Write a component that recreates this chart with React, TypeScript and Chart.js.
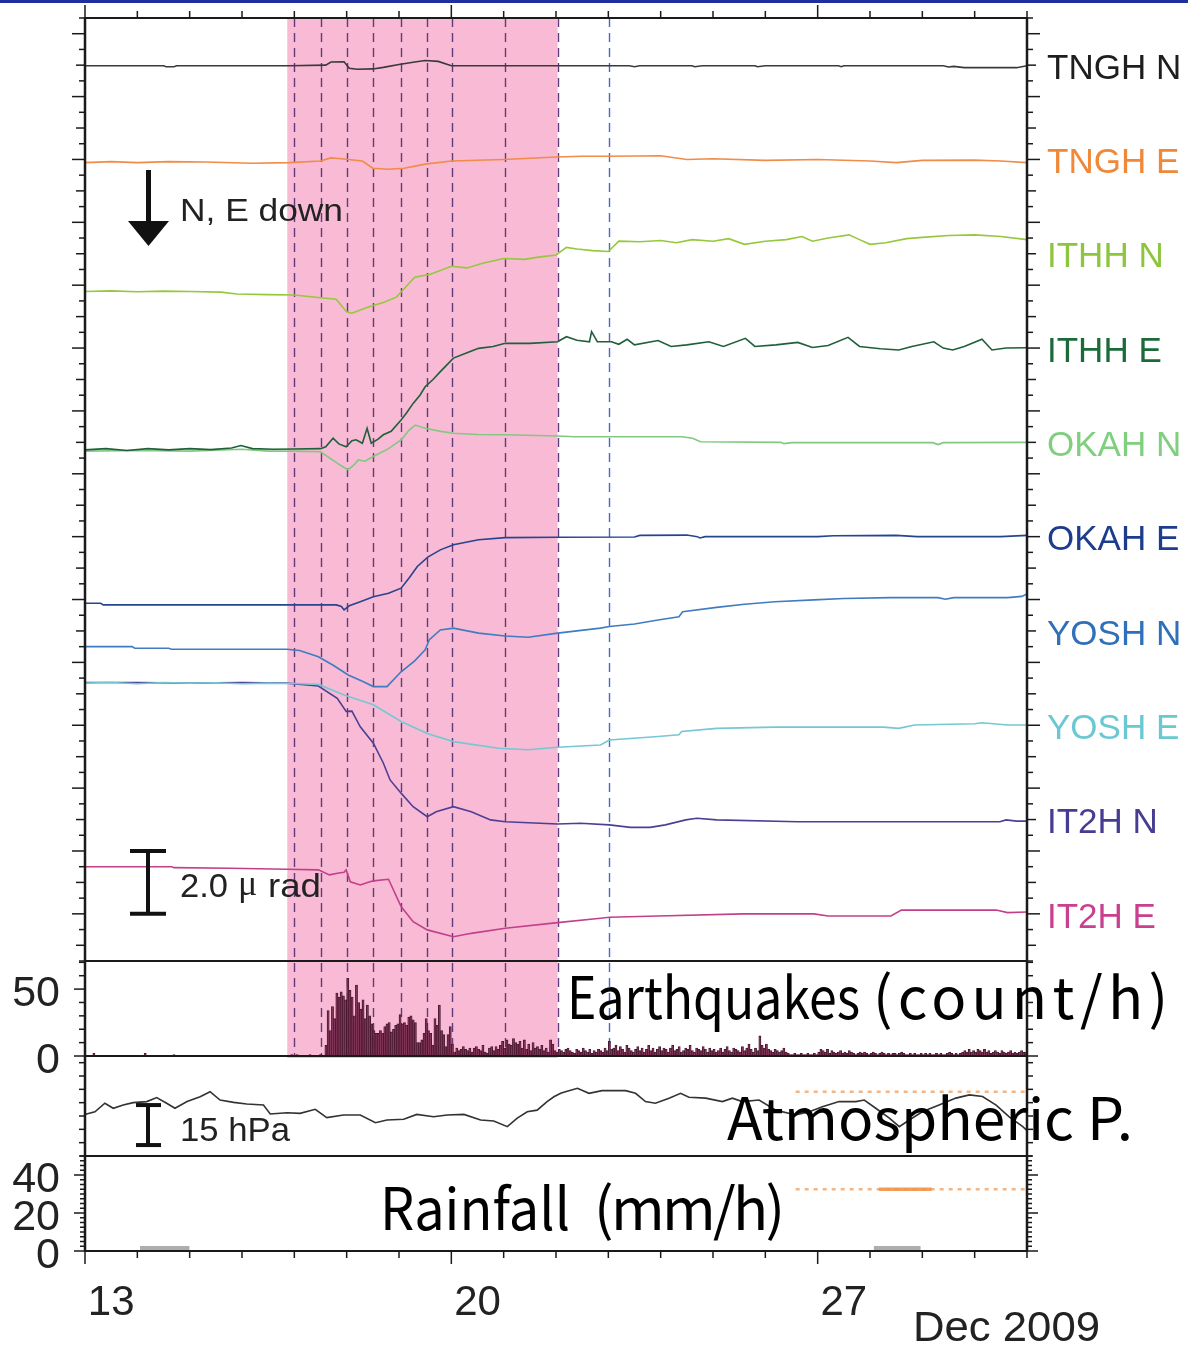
import React, { useEffect, useRef } from 'react';
import { Chart, registerables } from 'chart.js';

Chart.register(...registerables);

// ---------- data (x = day of December 2009, y = tilt in µrad, offset per trace) ----------
const tnghN: [number, number][] = [
  [13.0, 26.98], [14.5, 26.98], [14.55, 26.95], [14.7, 26.95], [14.75, 26.98], [16.9, 26.98],
  [17.6, 27.0], [17.7, 27.1], [17.95, 27.11], [18.05, 26.9], [18.2, 26.87], [18.5, 26.88],
  [18.7, 26.93], [19.0, 27.02], [19.3, 27.1], [19.5, 27.15], [19.75, 27.12], [20.0, 26.98],
  [23.4, 26.98], [23.5, 26.95], [23.6, 26.98], [24.6, 26.98], [24.65, 26.95], [24.8, 26.98],
  [25.8, 26.98], [25.85, 26.95], [26.0, 26.98], [27.4, 26.98], [27.45, 26.95], [27.5, 26.98],
  [29.4, 26.98], [29.5, 26.94], [29.6, 26.96], [29.8, 26.92], [30.8, 26.92], [31.0, 26.98],
];
const tnghE: [number, number][] = [
  [13.0, 23.9], [13.5, 23.93], [14.0, 23.9], [14.6, 23.93], [15.3, 23.92], [16.2, 23.88],
  [16.9, 23.9], [17.5, 23.95], [17.7, 24.05], [17.9, 24.02], [18.3, 23.95], [18.5, 23.72],
  [18.8, 23.69], [19.1, 23.72], [19.5, 23.85], [20.0, 23.95], [21.0, 24.0], [22.0, 24.08],
  [22.5, 24.1], [23.0, 24.1], [24.0, 24.12], [24.5, 24.0], [25.0, 24.02], [26.0, 23.97],
  [27.0, 24.0], [28.0, 23.95], [28.5, 23.9], [29.0, 23.97], [30.0, 23.98], [30.5, 23.95], [31.0, 23.9],
];
const ithhN: [number, number][] = [
  [13.0, 19.8], [13.5, 19.82], [14.0, 19.79], [14.5, 19.81], [15.0, 19.8], [15.6, 19.78],
  [15.9, 19.72], [16.5, 19.7], [17.0, 19.69], [17.5, 19.6], [17.8, 19.55], [18.0, 19.15],
  [18.1, 19.11], [18.4, 19.3], [18.7, 19.45], [18.95, 19.62], [19.05, 19.8], [19.3, 20.25],
  [19.6, 20.35], [20.0, 20.6], [20.3, 20.55], [20.6, 20.7], [21.0, 20.85], [21.4, 20.82],
  [21.7, 20.9], [22.0, 20.96], [22.2, 21.2], [22.4, 21.15], [22.7, 21.1], [23.0, 21.07],
  [23.2, 21.4], [23.6, 21.38], [24.0, 21.42], [24.3, 21.35], [24.6, 21.45], [25.0, 21.4],
  [25.3, 21.48], [25.6, 21.3], [26.0, 21.4], [26.4, 21.45], [26.7, 21.55], [26.9, 21.4],
  [27.2, 21.5], [27.6, 21.6], [27.8, 21.45], [28.0, 21.3], [28.3, 21.35], [28.7, 21.48],
  [29.0, 21.52], [29.5, 21.58], [30.0, 21.6], [30.5, 21.55], [31.0, 21.45],
];
const ithhE: [number, number][] = [
  [13.0, 14.76], [13.4, 14.8], [13.8, 14.74], [14.2, 14.8], [14.6, 14.76], [15.0, 14.8],
  [15.4, 14.77], [15.8, 14.82], [15.98, 14.9], [16.2, 14.8], [16.6, 14.78], [17.0, 14.79],
  [17.5, 14.8], [17.6, 14.86], [17.74, 15.13], [17.85, 14.95], [17.99, 14.86], [18.1, 15.05],
  [18.18, 15.08], [18.3, 14.97], [18.39, 15.45], [18.47, 14.97], [18.6, 15.1], [18.7, 15.24],
  [18.85, 15.35], [19.04, 15.71], [19.15, 15.95], [19.27, 16.24], [19.4, 16.5], [19.5, 16.77],
  [19.65, 17.0], [19.79, 17.25], [20.04, 17.68], [20.3, 17.85], [20.52, 17.99], [20.8, 18.05],
  [21.03, 18.15], [21.5, 18.15], [22.03, 18.2], [22.2, 18.36], [22.4, 18.25], [22.64, 18.2],
  [22.68, 18.52], [22.79, 18.2], [23.06, 18.2], [23.2, 18.12], [23.36, 18.28], [23.5, 18.1],
  [23.95, 18.24], [24.2, 18.05], [24.5, 18.1], [24.92, 18.2], [25.2, 18.05], [25.62, 18.31],
  [25.8, 18.05], [26.2, 18.1], [26.62, 18.18], [26.9, 18.02], [27.2, 18.08], [27.58, 18.34],
  [27.8, 18.05], [28.2, 17.98], [28.55, 17.94], [28.8, 18.05], [29.22, 18.2], [29.4, 18.0],
  [29.58, 17.94], [29.8, 18.05], [30.14, 18.28], [30.33, 17.94], [30.6, 18.0], [31.0, 18.01],
];
const okahN: [number, number][] = [
  [13.0, 14.72], [14.0, 14.74], [15.0, 14.72], [16.0, 14.78], [16.5, 14.72], [17.0, 14.72],
  [17.5, 14.7], [17.82, 14.34], [17.95, 14.2], [18.03, 14.13], [18.15, 14.3], [18.22, 14.44],
  [18.35, 14.4], [18.51, 14.55], [18.8, 14.8], [19.04, 15.08], [19.2, 15.4], [19.31, 15.55],
  [19.5, 15.45], [19.8, 15.35], [20.04, 15.29], [20.5, 15.25], [21.03, 15.24], [22.03, 15.2],
  [22.35, 15.18], [24.4, 15.18], [24.61, 15.13], [24.76, 15.02], [26.3, 15.0], [26.35, 14.96],
  [26.5, 14.99], [29.2, 14.99], [29.3, 14.93], [29.4, 14.99], [31.0, 15.0],
];
const okahE: [number, number][] = [
  [13.0, 9.88], [13.3, 9.88], [13.35, 9.83], [17.8, 9.83], [17.9, 9.78], [17.95, 9.67],
  [18.05, 9.8], [18.26, 9.93], [18.51, 10.09], [18.8, 10.2], [19.04, 10.36], [19.2, 10.7],
  [19.35, 11.05], [19.55, 11.35], [19.79, 11.58], [20.04, 11.74], [20.52, 11.9], [21.03, 11.97],
  [22.03, 11.98], [23.5, 11.99], [23.6, 12.04], [24.5, 12.05], [24.7, 12.0], [24.75, 11.96],
  [24.85, 12.0], [27.0, 12.0], [27.3, 12.03], [28.5, 12.04], [28.9, 12.0], [30.5, 12.0], [31.0, 12.04],
];
const yoshN: [number, number][] = [
  [13.0, 8.5], [13.9, 8.5], [13.95, 8.45], [14.6, 8.45], [14.65, 8.42], [15.8, 8.42],
  [16.86, 8.42], [17.1, 8.38], [17.46, 8.18], [17.75, 7.9], [18.03, 7.6], [18.3, 7.4],
  [18.51, 7.23], [18.77, 7.23], [19.04, 7.7], [19.3, 8.05], [19.5, 8.4], [19.58, 8.72],
  [19.79, 9.03], [20.04, 9.09], [20.52, 8.93], [21.03, 8.84], [21.47, 8.8], [22.03, 8.93],
  [22.85, 9.09], [23.02, 9.14], [23.5, 9.22], [23.95, 9.35], [24.35, 9.45], [24.42, 9.61],
  [25.07, 9.75], [25.6, 9.85], [26.18, 9.93], [26.93, 9.99], [27.5, 10.03], [28.4, 10.06],
  [29.3, 10.06], [29.44, 10.01], [29.6, 10.06], [30.63, 10.06], [30.9, 10.1], [31.0, 10.18],
];
const yoshE: [number, number][] = [
  [13.0, 7.34], [13.5, 7.36], [14.0, 7.32], [14.5, 7.36], [15.0, 7.34], [15.5, 7.35],
  [16.0, 7.32], [16.5, 7.34], [17.0, 7.33], [17.46, 7.3], [17.95, 6.96], [18.51, 6.65],
  [19.04, 6.12], [19.54, 5.74], [20.04, 5.48], [20.9, 5.27], [21.47, 5.22], [22.03, 5.3],
  [22.85, 5.37], [23.02, 5.53], [23.95, 5.64], [24.35, 5.7], [24.4, 5.8], [25.07, 5.9],
  [26.18, 5.94], [28.25, 5.94], [28.55, 5.9], [28.85, 6.01], [30.0, 6.05], [30.14, 6.08],
  [30.63, 6.01], [31.0, 6.01],
];
const it2hN: [number, number][] = [
  [13.0, 7.36], [14.0, 7.36], [15.0, 7.34], [16.0, 7.36], [16.86, 7.34], [17.46, 7.25],
  [17.82, 6.86], [17.99, 6.44], [18.1, 6.45], [18.26, 5.95], [18.51, 5.43], [18.7, 4.8],
  [18.83, 4.26], [19.04, 3.84], [19.27, 3.41], [19.54, 3.09], [19.71, 3.25], [20.04, 3.41],
  [20.38, 3.25], [20.75, 2.99], [21.03, 2.93], [22.03, 2.86], [22.47, 2.88], [23.02, 2.83],
  [23.42, 2.75], [23.8, 2.75], [24.09, 2.83], [24.48, 2.99], [24.69, 3.04], [25.07, 2.99],
  [26.62, 2.93], [28.0, 2.93], [30.48, 2.93], [30.6, 2.99], [30.8, 2.95], [31.0, 2.95],
];
const it2hE: [number, number][] = [
  [13.0, 1.5], [14.66, 1.5], [14.7, 1.47], [15.77, 1.45], [16.86, 1.42], [17.46, 1.4],
  [17.67, 1.24], [17.85, 1.3], [17.95, 1.32], [17.99, 1.4], [18.07, 1.02], [18.26, 0.92],
  [18.4, 1.0], [18.51, 1.05], [18.8, 1.1], [19.04, 0.23], [19.27, -0.25], [19.54, -0.51],
  [20.04, -0.73], [20.38, -0.62], [21.03, -0.46], [22.03, -0.28], [22.85, -0.14], [23.02, -0.11],
  [23.95, -0.07], [25.59, 0.0], [26.93, 0.0], [27.2, -0.07], [28.4, -0.07], [28.6, 0.12],
  [30.41, 0.12], [30.63, 0.04], [31.0, 0.06],
];

const traceData = [tnghN, tnghE, ithhN, ithhE, okahN, okahE, yoshN, yoshE, it2hN, it2hE];
const traceNames = ['TNGH N', 'TNGH E', 'ITHH N', 'ITHH E', 'OKAH N', 'OKAH E', 'YOSH N', 'YOSH E', 'IT2H N', 'IT2H E'];
const traceColors = ['#3a3a3a', '#f08c48', '#96c83c', '#1f5f3a', '#82c882', '#27448f', '#3f7cc0', '#74c8d4', '#4d3f94', '#c2408a'];
const labelColors = ['#1e1e1e', '#f0883a', '#8cc63e', '#1a6a3a', '#7fcf7f', '#1e3c8c', '#2f70b8', '#6ac8d2', '#463c92', '#c8408e'];
const labelLevels = [27, 24, 21, 18, 15, 12, 9, 6, 3, 0];

// Earthquakes: hourly counts starting Dec 17 14:00
const eqStartDay = 17 + 14 / 24;
const eqHourly = [
  8, 34, 19, 37, 28, 47, 44, 48, 45, 42,
  58, 49, 44, 30, 53, 40, 35, 42, 28, 38,
  30, 24, 19, 17, 17, 19, 17, 22, 24, 25,
  18, 20, 23, 24, 31, 24, 25, 23, 29, 30,
  27, 25, 10, 10, 12, 17, 28, 19, 17, 8,
  28, 23, 38, 19, 16, 7, 16, 22, 9, 3,
  6, 4, 5, 7, 5, 4, 6, 3, 6, 7,
  5, 4, 8, 3, 2, 6, 7, 4, 7, 5,
  8, 11, 6, 12, 9, 8, 13, 10, 9, 11,
  6, 12, 5, 9, 4, 10, 6, 7, 5, 8,
  4, 6, 3, 12, 9, 4, 3, 5,
  4, 3, 5, 6, 4, 3, 2, 5, 4, 3, 6, 4, 3, 5, 2, 4, 3, 5, 4, 3, 6, 4, 11, 5,
  6, 8, 4, 7, 5, 3, 8, 6, 4, 3, 5, 7, 4, 6, 3, 5, 8, 4, 6, 3, 5, 7, 4, 6,
  5, 3, 6, 8, 4, 5, 7, 3, 4, 6, 5, 8, 4, 3, 6, 5, 4, 7, 5, 3, 6, 4, 5, 3,
  4, 6, 3, 5, 7, 4, 3, 6, 5, 4, 3, 7, 4, 6, 9, 5, 3, 6, 4, 15, 8, 6, 9, 5,
  4, 3, 5, 4, 3, 4, 6, 3, 2, 1, 1, 2, 1, 1, 2, 1, 1, 2, 1, 1, 2, 1, 3, 5,
  4, 3, 5, 2, 4, 3, 2, 3, 4, 2, 3, 2, 4, 3, 2, 1, 2, 3, 2, 3, 2, 1, 2, 3,
  2, 1, 2, 3, 2, 1, 2, 1, 2, 2, 1, 2, 3, 2, 1, 1, 2, 1, 2, 1, 1, 2, 1, 2,
  1, 2, 1, 1, 2, 1, 2, 1, 1, 2, 3, 2, 1, 2, 1, 2, 3, 4, 3, 5, 3, 4, 3, 5,
  4, 3, 5, 3, 4, 2, 3, 4, 3, 2, 4, 3, 2, 3, 4, 2, 3, 2, 3, 4, 3, 3,
];
const eqEarly: [number, number][] = [[13.17, 2], [14.15, 2], [14.7, 1], [16.95, 1], [17.05, 1], [17.3, 1], [17.5, 1]];

// Atmospheric pressure (hPa)
const atmP: [number, number][] = [
  [13.0, 1005.5], [13.03, 1005.75], [13.19, 1006.6], [13.38, 1009.8], [13.54, 1007.9], [13.73, 1009.1],
  [13.92, 1010.0], [14.18, 1010.4], [14.37, 1011.9], [14.56, 1009.8], [14.72, 1007.9], [14.95, 1010.4],
  [15.2, 1012.2], [15.39, 1014.1], [15.58, 1011.0], [15.84, 1010.1], [16.09, 1009.5], [16.41, 1009.1],
  [16.54, 1005.75], [16.86, 1006.2], [17.11, 1006.0], [17.4, 1007.5], [17.62, 1004.4], [17.94, 1005.4],
  [18.26, 1005.4], [18.55, 1002.5], [18.77, 1003.5], [19.09, 1003.8], [19.34, 1005.6], [19.66, 1004.7],
  [19.92, 1005.4], [20.24, 1005.6], [20.56, 1003.5], [20.81, 1003.1], [21.07, 1001.0], [21.26, 1004.2],
  [21.45, 1006.6], [21.64, 1007.2], [21.83, 1010.4], [21.96, 1012.2], [22.09, 1013.5], [22.18, 1014.1],
  [22.41, 1015.4], [22.63, 1013.5], [22.88, 1014.5], [23.33, 1014.5], [23.52, 1013.5], [23.71, 1010.4],
  [23.9, 1009.8], [24.16, 1011.7], [24.38, 1013.5], [24.54, 1012.0], [24.86, 1011.7], [25.18, 1010.4],
  [25.37, 1011.7], [25.56, 1010.4], [25.88, 1011.0], [26.2, 1007.2], [26.58, 1005.4], [26.84, 1006.6],
  [27.09, 1008.5], [27.41, 1010.4], [27.73, 1010.4], [27.89, 1011.0], [28.11, 1007.9], [28.37, 1004.2],
  [28.56, 1001.0], [28.75, 1003.5], [29.0, 1006.6], [29.32, 1009.1], [29.64, 1011.7], [29.9, 1012.9],
  [30.15, 1012.3], [30.41, 1009.1], [30.66, 1004.7], [30.92, 1001.0], [31.0, 999.5],
];
const atmFlag: [number, number][] = [[26.58, 1014.1], [31.0, 1014.1]];

// Rainfall (mm/h)
const rainBlocks: [number, number, number][] = [[14.05, 15.0, 2.6], [28.07, 28.97, 2.6]];
const rainFlag: [number, number][] = [[26.58, 32.5], [31.0, 32.5]];
const rainFlagBold: [number, number][] = [[28.17, 32.5], [29.18, 32.5]];

const dayLabels = [13, 20, 27];
const eqTickLabels = [0, 50];
const rainTickLabels = [0, 20, 40];
const shadeStart = 16.865;
const shadeEnd = 22.03;
const dashDays = [17.0, 17.5, 18.0, 18.5, 19.04, 19.54, 20.02, 21.02, 22.03];
const blueDashDays = [23.02];

const FONT = '"Liberation Sans", Arial, sans-serif';
const CJK = '"Noto Sans CJK JP", "Noto Sans", sans-serif';

const toXY = (arr: [number, number][]) => arr.map(([x, y]) => ({ x, y }));

// draw text squeezed/stretched to a given width
const fitText = (ctx: CanvasRenderingContext2D, text: string, x: number, y: number, width: number) => {
  const w = ctx.measureText(text).width;
  ctx.save();
  ctx.translate(x, y);
  ctx.scale(width / w, 1);
  ctx.fillText(text, 0, 0);
  ctx.restore();
};
// draw text spread to a given width with letter spacing
const spacedText = (ctx: any, text: string, x: number, y: number, width: number) => {
  ctx.save();
  ctx.letterSpacing = '0px';
  const w = ctx.measureText(text).width;
  const sp = (width - w) / (text.length - 1);
  ctx.letterSpacing = `${sp.toFixed(2)}px`;
  ctx.fillText(text, x, y);
  ctx.restore();
};

const overlay = {
  id: 'overlay',
  beforeDatasetsDraw(chart: any) {
    const { ctx, scales } = chart;
    const x = scales.x, ym = scales.yMain, ye = scales.yEq;
    const top = ym.top, bot = ye.getPixelForValue(0) + 2;
    ctx.save();
    ctx.fillStyle = 'rgb(248,186,212)';
    const x0 = x.getPixelForValue(shadeStart), x1 = x.getPixelForValue(shadeEnd);
    ctx.fillRect(x0, top, x1 - x0, bot - top);
    ctx.setLineDash([9, 6]);
    ctx.lineWidth = 1.4;
    const vline = (d: number) => {
      const px = Math.round(x.getPixelForValue(d)) + 0.5;
      ctx.beginPath(); ctx.moveTo(px, top); ctx.lineTo(px, ye.bottom); ctx.stroke();
    };
    ctx.strokeStyle = '#5e3c7c';
    dashDays.forEach(vline);
    ctx.strokeStyle = '#4a66c8';
    blueDashDays.forEach(vline);
    ctx.restore();
  },
  afterDatasetsDraw(chart: any) {
    const { ctx, scales } = chart;
    const x = scales.x, ym = scales.yMain, ye = scales.yEq, ya = scales.yAtm, yr = scales.yRain;
    const L = x.left, R = x.right;
    ctx.save();
    const seg = (a: number, b: number, c: number, d: number) => {
      ctx.beginPath(); ctx.moveTo(a, b); ctx.lineTo(c, d); ctx.stroke();
    };
    // top banner line
    ctx.fillStyle = '#1f2f9c';
    ctx.fillRect(0, 0, chart.width, 3);

    ctx.strokeStyle = '#1a1a1a';
    ctx.lineWidth = 1.5;
    for (let d = 13; d <= 31; d++) {
      const px = x.getPixelForValue(d);
      const len = dayLabels.includes(d) ? 13 : 7;
      seg(px, ym.top, px, ym.top - len);
      seg(px, yr.bottom, px, yr.bottom + len);
    }
    const side = (scale: any, v: number, len: number) => {
      const py = scale.getPixelForValue(v);
      seg(L, py, L - len, py);
      seg(R, py, R + len, py);
    };
    for (let v = -1.5; v <= 28.5001; v += 0.5) {
      const isEven = Math.abs(v / 2 - Math.round(v / 2)) < 1e-6;
      const isInt = Math.abs(v - Math.round(v)) < 1e-6;
      side(ym, v, isEven ? 13 : isInt ? 9 : 6);
    }
    for (let v = 0; v <= 70; v += 10) side(ye, v, v === 0 || v === 50 ? 11 : 6);
    for (let v = 990; v <= 1025; v += 5) side(ya, v, 6);
    for (let v = 0; v <= 50; v += 2.5) side(yr, v, v === 0 || v === 20 || v === 40 ? 11 : 5);

    // frames
    ctx.lineWidth = 2.2;
    seg(L, ym.top, R, ym.top);
    seg(L, ye.top, R, ye.top);
    seg(L, ye.bottom, R, ye.bottom);
    seg(L, ya.bottom, R, ya.bottom);
    seg(L, yr.bottom, R, yr.bottom);
    ctx.lineWidth = 2.5;
    seg(L, ym.top - 1, L, yr.bottom + 1);
    seg(R, ym.top - 1, R, yr.bottom + 1);

    // station labels
    ctx.font = `35px ${FONT}`;
    ctx.textBaseline = 'middle';
    ctx.textAlign = 'left';
    traceNames.forEach((n, i) => {
      ctx.fillStyle = labelColors[i];
      ctx.fillText(n, R + 20, ym.getPixelForValue(labelLevels[i]) + 4);
    });

    // arrow "N, E down"
    ctx.fillStyle = '#111';
    ctx.fillRect(146, 170, 5, 56);
    ctx.beginPath(); ctx.moveTo(128, 221); ctx.lineTo(169, 221); ctx.lineTo(148.5, 246); ctx.closePath(); ctx.fill();
    ctx.fillStyle = '#222';
    ctx.font = `32px ${FONT}`;
    fitText(ctx, 'N, E down', 180, 212, 163);

    // scale bar 2.0 µrad
    ctx.strokeStyle = '#111';
    ctx.lineWidth = 4;
    const b0 = ym.getPixelForValue(2.0), b1 = ym.getPixelForValue(0);
    seg(148, b0, 148, b1);
    seg(130, b0, 166, b0);
    seg(130, b1, 166, b1);
    ctx.font = `34px ${FONT}`;
    fitText(ctx, '2.0', 180, 888, 48);
    ctx.font = `36px "Liberation Serif", serif`;
    ctx.fillText('\u03bc', 238, 886);
    ctx.font = `34px ${FONT}`;
    fitText(ctx, 'rad', 268, 888, 53);

    // scale bar 15 hPa
    const p0 = ya.getPixelForValue(1009.1), p1 = ya.getPixelForValue(994.1);
    seg(148, p0, 148, p1);
    seg(136, p0, 161, p0);
    seg(136, p1, 161, p1);
    fitText(ctx, '15 hPa', 180, 1132, 110);

    // panel titles
    ctx.fillStyle = '#000';
    ctx.font = `58px ${CJK}`;
    ctx.textBaseline = 'alphabetic';
    fitText(ctx, 'Earthquakes', 567, 1019, 293);
    spacedText(ctx, '(count/h)', 873, 1019, 295);
    fitText(ctx, 'Atmospheric P.', 727, 1140, 406);
    fitText(ctx, 'Rainfall', 380, 1230, 190);
    spacedText(ctx, '(mm/h)', 594, 1230, 191);

    ctx.fillStyle = '#222';
    ctx.font = `42px ${FONT}`;
    fitText(ctx, 'Dec 2009', 913, 1341, 187);
    ctx.restore();
  },
};

const App = () => {
  const ref = useRef<HTMLCanvasElement>(null);
  useEffect(() => {
    const canvas = ref.current;
    if (!canvas) return;
    Chart.defaults.font.family = FONT;
    const eqData = [
      ...eqEarly.map(([x, y]) => ({ x, y })),
      ...eqHourly.map((y, i) => ({ x: eqStartDay + (i + 0.5) / 24, y })),
    ];
    const datasets: any[] = traceData.map((d, i) => ({
      type: 'line', label: traceNames[i], data: toXY(d), yAxisID: 'yMain',
      borderColor: traceColors[i], borderWidth: 1.6, pointRadius: 0, tension: 0, fill: false,
    }));
    datasets.push({
      type: 'bar', label: 'Earthquakes', data: eqData, yAxisID: 'yEq',
      backgroundColor: 'rgba(165,70,112,0.55)', borderColor: '#45152c', borderWidth: 0.8,
      barPercentage: 1, categoryPercentage: 1,
    });
    datasets.push({
      type: 'line', label: 'Atm', data: toXY(atmP), yAxisID: 'yAtm',
      borderColor: '#333', borderWidth: 1.6, pointRadius: 0, tension: 0,
    });
    datasets.push({
      type: 'line', label: 'AtmFlag', data: toXY(atmFlag), yAxisID: 'yAtm',
      borderColor: 'rgba(240,150,80,0.7)', borderWidth: 2.5, borderDash: [4, 5], pointRadius: 0,
    });
    rainBlocks.forEach(([s, e, v]) => datasets.push({
      type: 'line', label: 'Rain', data: [{ x: s, y: v }, { x: e, y: v }], yAxisID: 'yRain',
      borderWidth: 0, pointRadius: 0, fill: 'origin', backgroundColor: '#adadad', borderColor: '#adadad',
    }));
    datasets.push({
      type: 'line', label: 'RainFlag', data: toXY(rainFlag), yAxisID: 'yRain',
      borderColor: 'rgba(240,150,80,0.7)', borderWidth: 2.5, borderDash: [4, 5], pointRadius: 0,
    });
    datasets.push({
      type: 'line', label: 'RainFlagBold', data: toXY(rainFlagBold), yAxisID: 'yRain',
      borderColor: 'rgba(240,140,60,0.85)', borderWidth: 3.5, pointRadius: 0,
    });

    const hidden = { grid: { display: false }, border: { display: false } };
    const fitY = (s: any) => { s.width = 85; s.paddingTop = 0; s.paddingBottom = 0; };
    const chart = new Chart(canvas, {
      type: 'line',
      data: { datasets },
      options: {
        animation: false,
        responsive: false,
        devicePixelRatio: 1,
        layout: { padding: { top: 18, right: 161, bottom: 0, left: 0 } },
        plugins: { legend: { display: false }, tooltip: { enabled: false } },
        scales: {
          x: {
            type: 'linear', position: 'bottom', min: 13, max: 31, offset: false, ...hidden,
            ticks: {
              font: { size: 42 }, color: '#222', padding: 19, maxRotation: 0, autoSkip: false,
              callback: (v: any) => String(Math.floor(Number(v))),
            },
            afterBuildTicks: (s: any) => { s.ticks = dayLabels.map((d) => ({ value: d + 0.5 })); },
            afterFit: (s: any) => { s.height = 95; s.paddingLeft = 0; s.paddingRight = 0; },
          },
          yMain: {
            type: 'linear', position: 'left', stack: 'panels', stackWeight: 943, weight: 4,
            min: -1.5, max: 28.5, ...hidden, ticks: { display: false },
            afterFit: fitY,
          },
          yEq: {
            type: 'linear', position: 'left', stack: 'panels', stackWeight: 95, weight: 3,
            min: 0, max: 71, ...hidden,
            ticks: { font: { size: 43 }, color: '#222', padding: 17, autoSkip: false, labelOffset: 5 },
            afterBuildTicks: (s: any) => { s.ticks = eqTickLabels.map((v) => ({ value: v })); },
            afterFit: fitY,
          },
          yAtm: {
            type: 'linear', position: 'left', stack: 'panels', stackWeight: 100, weight: 2,
            min: 990, max: 1027.5, ...hidden, ticks: { display: false },
            afterFit: fitY,
          },
          yRain: {
            type: 'linear', position: 'left', stack: 'panels', stackWeight: 95, weight: 1,
            min: 0, max: 50, ...hidden,
            ticks: { font: { size: 43 }, color: '#222', padding: 17, autoSkip: false, labelOffset: 5 },
            afterBuildTicks: (s: any) => { s.ticks = rainTickLabels.map((v) => ({ value: v })); },
            afterFit: fitY,
          },
        },
      } as any,
      plugins: [overlay],
    });
    return () => chart.destroy();
  }, []);

  return (
    <div style={{ position: 'absolute', left: 0, top: 0, width: 1188, height: 1346, background: '#fff' }}>
      <canvas ref={ref} width={1188} height={1346} style={{ display: 'block' }} />
    </div>
  );
};

export default App;
